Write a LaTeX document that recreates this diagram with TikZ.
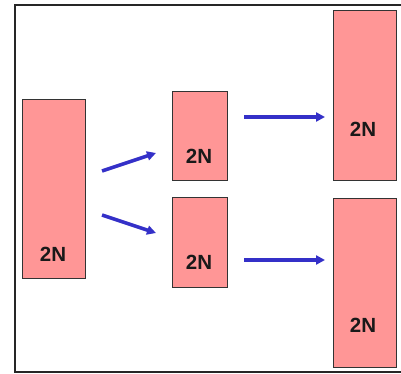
\documentclass[tikz,border=0pt]{standalone}
\usepackage{fontspec}
\setmainfont{Liberation Sans}
\usetikzlibrary{arrows.meta}
\definecolor{boxfill}{RGB}{255,150,150}
\definecolor{arrowblue}{RGB}{52,48,200}
\begin{document}
\begin{tikzpicture}[x=1pt,y=-1pt,
  blk/.style={draw=black!80,line width=0.9pt,fill=boxfill,inner sep=0pt,anchor=north west},
  lbl/.style={font=\fontsize{20.5}{22}\selectfont\bfseries,inner sep=0pt,text=black!90},
  arr/.style={draw=arrowblue,line width=3.6pt,-{Triangle[length=9pt,width=9pt]}}]
  \clip (0,0) rectangle (401,374);
  \fill[white] (0,0) rectangle (401,374);
  % outer frame (its right side lies past the edge)
  \draw[line width=2pt,black!85] (15,5) rectangle (410,372);

  % blocks
  \node[blk,minimum width=63pt,minimum height=179pt] (r1) at (22,99) {};
  \node[blk,minimum width=55pt,minimum height=89pt]  (r2) at (172,91) {};
  \node[blk,minimum width=55pt,minimum height=90pt]  (r3) at (172,197) {};
  \node[blk,minimum width=63pt,minimum height=170pt] (r4) at (333,10) {};
  \node[blk,minimum width=63pt,minimum height=169pt] (r5) at (333,198) {};

  % labels
  \node[lbl] (t1) at (53,254) {2N};
  \node[lbl] (t2) at (199,156) {2N};
  \node[lbl] (t3) at (199,262) {2N};
  \node[lbl] (t4) at (363,129) {2N};
  \node[lbl] (t5) at (363,325) {2N};

  % arrow end points
  \coordinate (a1s) at (102,171);
  \coordinate (a1e) at (156,153);
  \coordinate (a2s) at (102,215);
  \coordinate (a2e) at (156,233);
  \coordinate (a3s) at (244,117);
  \coordinate (a3e) at (325,117);
  \coordinate (a4s) at (244,260);
  \coordinate (a4e) at (325,260);

  \draw[arr] (a1s) -- (a1e);
  \draw[arr] (a2s) -- (a2e);
  \draw[arr] (a3s) -- (a3e);
  \draw[arr] (a4s) -- (a4e);
\end{tikzpicture}
\end{document}
